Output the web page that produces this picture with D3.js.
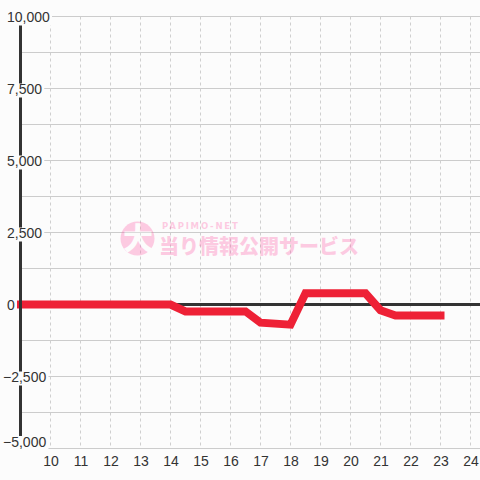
<!DOCTYPE html>
<html><head><meta charset="utf-8">
<script src="https://cdn.jsdelivr.net/npm/d3@7"></script>
<style>html,body{margin:0;padding:0;background:#fcfcfc;}svg{display:block;}</style>
</head><body>
<script>
// ---- data ----
const hours = [9, 14, 14.5, 16.5, 17, 18, 18.5, 20.5, 21, 21.5, 23];
const values = [0, 0, -240, -240, -630, -700, 390, 390, -200, -380, -380];
const xTicks = [10, 11, 12, 13, 14, 15, 16, 17, 18, 19, 20, 21, 22, 23, 24];
const yTicks = [10000, 7500, 5000, 2500, 0, -2500, -5000];
const yGrid = [10000, 8750, 7500, 6250, 5000, 3750, 2500, 1250, 0, -1250, -2500, -3750, -5000];
const watermarkSmall = "PAPIMO-NET";
const watermarkBig = "当り情報公開サービス";
const watermarkMark = "大";

const W = 480, H = 480;
const svg = d3.select("body").append("svg").attr("width", W).attr("height", H);
svg.append("rect").attr("width", W).attr("height", H).attr("fill", "#fcfcfc");

const x = d3.scaleLinear().domain([10, 24]).range([50.5, 470.5]);
const y = d3.scaleLinear().domain([-5000, 10000]).range([448.5, 16.5]);

// horizontal grid
svg.append("g").selectAll("line").data(yGrid).join("line")
  .attr("x1", 20).attr("x2", W).attr("y1", d => y(d)).attr("y2", d => y(d))
  .attr("stroke", "#cccccc").attr("stroke-width", 1);
// vertical dashed grid
svg.append("g").selectAll("line").data(xTicks).join("line")
  .attr("x1", d => x(d)).attr("x2", d => x(d)).attr("y1", y(10000)).attr("y2", y(-5000))
  .attr("stroke", "#cfcfcf").attr("stroke-width", 1).attr("stroke-dasharray", "3,3");

// watermark
const wm = svg.append("g").attr("opacity", 0.3);
wm.append("circle").attr("cx", 137.5).attr("cy", 238.5).attr("r", 17).attr("fill", "#ff5aa5");
wm.append("text").attr("x", 138).attr("y", 249).attr("text-anchor", "middle")
  .attr("font-family", "Noto Sans CJK JP").attr("font-weight", 900).attr("font-size", 30)
  .attr("fill", "#fcfcfc").text(watermarkMark);
wm.append("text").attr("x", 162).attr("y", 229)
  .attr("font-family", "DejaVu Sans").attr("font-weight", "bold").attr("font-size", 8.5)
  .attr("letter-spacing", 1.8).attr("fill", "#ff5aa5").text(watermarkSmall);
wm.append("text").attr("x", 159).attr("y", 254)
  .attr("font-family", "Noto Sans CJK JP").attr("font-weight", 900).attr("font-size", 20)
  .attr("fill", "#ff5aa5").text(watermarkBig);

// zero line
svg.append("line").attr("x1", 20).attr("x2", W).attr("y1", y(0)).attr("y2", y(0))
  .attr("stroke", "#333333").attr("stroke-width", 3);

// series line
const pts = hours.map((h, i) => [h, values[i]]);
svg.append("path").datum(pts)
  .attr("d", d3.line().x(d => x(d[0])).y(d => y(d[1])))
  .attr("fill", "none").attr("stroke", "#ee2136").attr("stroke-width", 8)
  .attr("stroke-linecap", "square").attr("stroke-linejoin", "miter");

// y axis line
svg.append("line").attr("x1", 20.5).attr("x2", 20.5).attr("y1", y(10000)).attr("y2", y(-5000))
  .attr("stroke", "#333333").attr("stroke-width", 3);

// y labels with background
const fmt = d3.format(",");
const yl = svg.append("g").selectAll("g").data(yTicks).join("g");
yl.each(function(d) {
  const g = d3.select(this);
  const base = Math.min(y(d) + 5.5, 446.5);
  const t = g.append("text").attr("x", d < 0 ? 3 : 7).attr("y", base)
    .attr("font-family", "Liberation Sans, Arial, sans-serif").attr("font-size", 14)
    .attr("fill", "#333333").text(fmt(d));
  const bb = t.node().getBBox();
  g.insert("rect", "text").attr("x", bb.x - 2).attr("y", base - 10.5)
    .attr("width", bb.width + 4).attr("height", 14).attr("fill", "#fcfcfc");
});

// x labels
svg.append("g").selectAll("text").data(xTicks).join("text")
  .attr("x", d => x(d) + 0.5).attr("y", 466).attr("text-anchor", "middle")
  .attr("font-family", "Liberation Sans, Arial, sans-serif").attr("font-size", 14)
  .attr("fill", "#333333").text(d => d);
</script>
</body></html>
